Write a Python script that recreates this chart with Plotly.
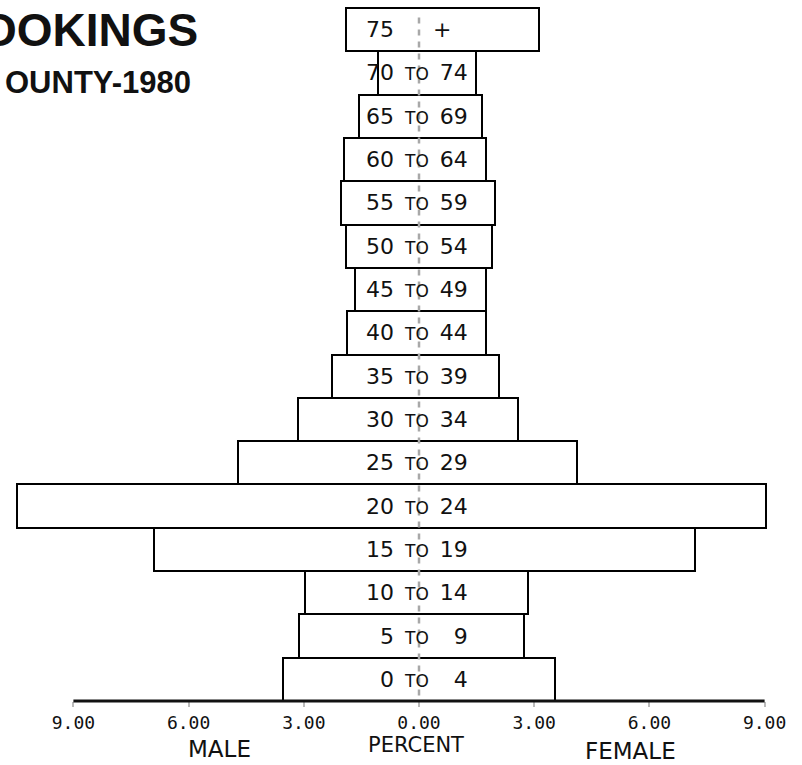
import plotly.graph_objects as go

# ---- data (percent of county population, 1980) ----
AGE_GROUPS = ["0 TO 4", "5 TO 9", "10 TO 14", "15 TO 19", "20 TO 24", "25 TO 29",
              "30 TO 34", "35 TO 39", "40 TO 44", "45 TO 49", "50 TO 54", "55 TO 59",
              "60 TO 64", "65 TO 69", "70 TO 74", "75 +"]
MALE = [3.55, 3.12, 2.97, 6.90, 10.48, 4.71, 3.14, 2.26, 1.87, 1.67, 1.91, 2.03,
        1.95, 1.55, 1.06, 1.91]
FEMALE = [3.55, 2.73, 2.83, 7.20, 9.04, 4.11, 2.57, 2.09, 1.74, 1.74, 1.89, 1.97,
          1.74, 1.65, 1.48, 3.13]
TICK_VALUES = [-9, -6, -3, 0, 3, 6, 9]
TICK_TEXT = ["9.00", "6.00", "3.00", "0.00", "3.00", "6.00", "9.00"]
TITLE_LINE1 = "OOKINGS"
TITLE_LINE2 = "OUNTY-1980"

FS = "\u2007"   # figure space (digit width)
ES = "\u2002"   # en space
SMALL = "<span style='font-size:17px'>TO</span>"


def fmt_label(s):
    if " TO " in s:
        a, b = s.split(" TO ")
        a = a.rjust(2, FS)
        b = b.rjust(2, FS)
        return a + ES + SMALL + ES + b
    num, plus = s.split(" ")
    return num + FS + FS + ES + plus


fig = go.Figure()
fig.add_trace(go.Bar(
    y=AGE_GROUPS,
    x=[m + f for m, f in zip(MALE, FEMALE)],
    base=[-m for m in MALE],
    orientation="h",
    width=1,
    marker=dict(color="white", line=dict(color="black", width=2)),
    hoverinfo="skip",
    showlegend=False,
))

# centre dashed line
fig.add_shape(type="line", xref="x", yref="y", x0=0, x1=0, y0=-0.65, y1=15.3,
              line=dict(color="#a8a8a8", width=2.5, dash="6px,6px"), layer="above")
# axis base line, from -9 to 9
fig.add_shape(type="line", xref="x", yref="paper", x0=TICK_VALUES[0], x1=TICK_VALUES[-1],
              y0=0, y1=0, line=dict(color="#111", width=3), layer="above")

annotations = []
LABEL_X = -1.43
for g in AGE_GROUPS:
    annotations.append(dict(x=LABEL_X, y=g, xref="x", yref="y", xanchor="left",
                            yanchor="middle", text=fmt_label(g), showarrow=False,
                            font=dict(family="DejaVu Sans", size=22, color="#111")))

annotations += [
    dict(x=0.249, y=0.957, xref="paper", yref="paper", xanchor="right", yanchor="middle",
         text=TITLE_LINE1, showarrow=False,
         font=dict(family="Liberation Sans", size=46, color="#111", weight="bold")),
    dict(x=0.241, y=0.882, xref="paper", yref="paper", xanchor="right", yanchor="middle",
         text=TITLE_LINE2, showarrow=False,
         font=dict(family="Liberation Sans", size=31, color="#111", weight="bold")),
    dict(x=0.519, y=-0.0625, xref="paper", yref="paper", xanchor="center", yanchor="middle",
         text="PERCENT", showarrow=False,
         font=dict(family="DejaVu Sans", size=21, color="#111")),
    dict(x=0.274, y=-0.0685, xref="paper", yref="paper", xanchor="center", yanchor="middle",
         text="MALE", showarrow=False,
         font=dict(family="DejaVu Sans", size=23, color="#111")),
    dict(x=0.786, y=-0.0713, xref="paper", yref="paper", xanchor="center", yanchor="middle",
         text="FEMALE", showarrow=False,
         font=dict(family="DejaVu Sans", size=23, color="#111")),
]

fig.update_layout(
    width=802, height=765,
    margin=dict(l=0, r=0, t=0, b=64),
    paper_bgcolor="white", plot_bgcolor="white",
    bargap=0,
    annotations=annotations,
    xaxis=dict(range=[-419 / 38.4, 383 / 38.4], tickvals=TICK_VALUES, ticktext=TICK_TEXT,
               showgrid=False, zeroline=False, showline=False,
               ticks="outside", ticklen=5, tickwidth=2, tickcolor="#bbbbbb",
               tickfont=dict(family="DejaVu Sans Mono", size=18, color="#111"),
               fixedrange=True),
    yaxis=dict(type="category", categoryorder="array", categoryarray=AGE_GROUPS,
               range=[-0.5, 15.5 + 8 / 43.3], visible=False, fixedrange=True),
)

fig.write_html("out.html", config={"displayModeBar": False},
               post_script="document.body.style.margin='0';document.body.style.overflow='hidden';")
